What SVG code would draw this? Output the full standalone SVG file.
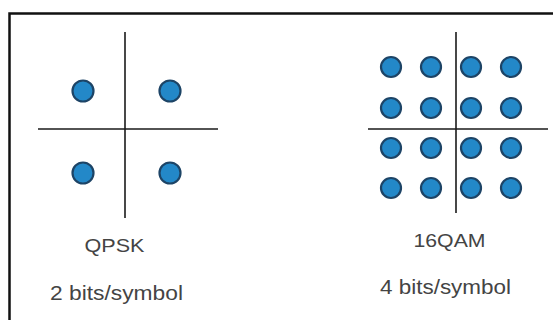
<svg xmlns="http://www.w3.org/2000/svg" width="553" height="320" viewBox="0 0 553 320">
<style>
.axis{stroke:#1a1a1a;stroke-width:1.6;fill:none}
.dot{fill:#2388c8;stroke:#1d4466;stroke-width:2.2}
.lbl{font-family:"Liberation Sans",Arial,sans-serif;fill:#444;text-anchor:middle}
</style>
<rect x="0" y="0" width="553" height="320" fill="#ffffff"/>
<path d="M9.5,330 V13.5 H560" fill="none" stroke="#111" stroke-width="2.5"/>
<g id="qpsk">
<line class="axis" x1="125" y1="32" x2="125" y2="218"/>
<line class="axis" x1="38" y1="129" x2="218" y2="129"/>
<circle class="dot" cx="83" cy="91" r="10.5"/>
<circle class="dot" cx="170" cy="91" r="10.5"/>
<circle class="dot" cx="83" cy="173" r="10.5"/>
<circle class="dot" cx="170" cy="173" r="10.5"/>
<text class="lbl" x="114.5" y="252" font-size="19" textLength="60" lengthAdjust="spacingAndGlyphs">QPSK</text>
<text class="lbl" x="116.5" y="300" font-size="21" textLength="133" lengthAdjust="spacingAndGlyphs">2 bits/symbol</text>
</g>
<g id="qam16">
<line class="axis" x1="456" y1="32" x2="456" y2="213"/>
<line class="axis" x1="368" y1="129" x2="548" y2="129"/>
<circle class="dot" cx="391" cy="67" r="10"/>
<circle class="dot" cx="431" cy="67" r="10"/>
<circle class="dot" cx="471" cy="67" r="10"/>
<circle class="dot" cx="511" cy="67" r="10"/>
<circle class="dot" cx="391" cy="108" r="10"/>
<circle class="dot" cx="431" cy="108" r="10"/>
<circle class="dot" cx="471" cy="108" r="10"/>
<circle class="dot" cx="511" cy="108" r="10"/>
<circle class="dot" cx="391" cy="148" r="10"/>
<circle class="dot" cx="431" cy="148" r="10"/>
<circle class="dot" cx="471" cy="148" r="10"/>
<circle class="dot" cx="511" cy="148" r="10"/>
<circle class="dot" cx="391" cy="188" r="10"/>
<circle class="dot" cx="431" cy="188" r="10"/>
<circle class="dot" cx="471" cy="188" r="10"/>
<circle class="dot" cx="511" cy="188" r="10"/>
<text class="lbl" x="449.5" y="247" font-size="19" textLength="72" lengthAdjust="spacingAndGlyphs">16QAM</text>
<text class="lbl" x="445.5" y="294" font-size="21" textLength="131" lengthAdjust="spacingAndGlyphs">4 bits/symbol</text>
</g>
</svg>
